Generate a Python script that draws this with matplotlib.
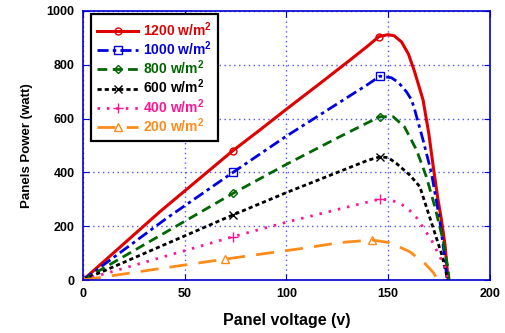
import matplotlib.pyplot as plt

plt.rcParams['font.family'] = ['Liberation Sans', 'DejaVu Sans']
plt.rcParams['font.weight'] = 'bold'
plt.rcParams['mathtext.fontset'] = 'custom'
plt.rcParams['mathtext.bf'] = 'Liberation Sans:bold'
plt.rcParams['mathtext.rm'] = 'Liberation Sans:bold'
plt.rcParams['mathtext.default'] = 'bf'
plt.rcParams['lines.scale_dashes'] = False

# P-V curves of the panel for each irradiance level
v_1200 = [0, 37.8, 73.7, 87, 100, 115, 130, 140, 145.5, 150, 153, 156.6, 160, 163, 167.2, 170, 172.2, 174.5, 176.2, 178, 179.5]
p_1200 = [0, 254, 481, 558, 635, 722, 810, 870, 905, 912, 908, 885, 840, 775, 669, 545, 421, 300, 225, 130, 0]

v_1000 = [0, 41, 73.7, 100, 125, 140, 146, 151.6, 155, 159, 161.5, 163, 167.2, 171.3, 175.4, 177.9, 179]
p_1000 = [0, 229, 400, 535, 655, 727, 758, 752, 735, 700, 670, 635, 520, 398, 223, 80, 0]

v_800 = [0, 73.7, 100, 125, 140, 146, 152.5, 158, 164, 168.8, 173, 177, 179.5, 180]
p_800 = [0, 322, 430, 528, 585, 607, 607, 570, 483, 384, 272, 149, 40, 0]

v_600 = [0, 73.7, 100, 125, 140, 146, 150, 154, 160.7, 165.6, 168.8, 173, 176.2, 178.6, 179]
p_600 = [0, 242, 325, 400, 445, 458, 455, 434, 390, 347, 272, 174, 99, 25, 0]

v_400 = [0, 73.7, 100, 125, 140, 146, 151.6, 156.6, 160.7, 164.3, 168, 171.3, 174.6, 177.9, 179.4]
p_400 = [0, 161, 215, 262, 290, 301, 297, 282, 258, 229, 186, 149, 99, 50, 0]

v_200 = [0, 40, 70, 90, 110, 126, 142, 150, 155, 160.7, 168, 172, 174.6]
p_200 = [0, 45, 78, 99, 120, 139, 149, 140, 125, 105, 62, 30, 0]

labels = ['1200 w/m$^2$', '1000 w/m$^2$', '800 w/m$^2$',
          '600 w/m$^2$', '400 w/m$^2$', '200 w/m$^2$']
mark_v = [[0, 73.7, 145.5], [0, 73.7, 146], [0, 73.7, 146],
          [0, 73.7, 146], [0, 73.7, 146], [0, 70, 142]]

colors = ['#e00000', '#0000e0', '#006600', 'black', '#ff1493', '#ff8c1a']
markers = ['o', 's', 'D', 'x', '+', '^']
msizes = [5, 6, 4.5, 6, 7, 6]
dashes = [None, (8, 3, 2.5, 3), (7, 4), (3, 2.2), (1.8, 5), (13, 8)]
widths = [2.2, 2.0, 2.0, 2.0, 2.0, 2.0]

fig = plt.figure(figsize=(5.06, 3.33), dpi=100)
ax = fig.add_axes([0.164, 0.159, 0.804, 0.808])

curves = [(v_1200, p_1200), (v_1000, p_1000), (v_800, p_800),
          (v_600, p_600), (v_400, p_400), (v_200, p_200)]
for i, (v, p) in enumerate(curves):
    idx = [v.index(m) for m in mark_v[i]]
    line, = ax.plot(v, p, color=colors[i], lw=widths[i], marker=markers[i],
                    markevery=idx, ms=msizes[i], mfc='none', mew=1.0,
                    label=labels[i])
    if dashes[i] is not None:
        line.set_dashes(dashes[i])

ax.set_xlim(0, 200)
ax.set_ylim(0, 1000)
ax.set_xticks([0, 50, 100, 150, 200])
ax.set_yticks([0, 200, 400, 600, 800, 1000])
ax.grid(True, color='#5050ff', linestyle=(0, (1, 2.5)), lw=1.0)
for s in ax.spines.values():
    s.set_color('#0000cc')
    s.set_linewidth(1.2)
ax.tick_params(direction='in', top=True, right=True, color='#0000cc',
               length=4, labelsize=9, pad=6)
for t in ax.get_xticklabels() + ax.get_yticklabels():
    t.set_fontweight('bold')

ax.set_xlabel('Panel voltage (v)', fontsize=11.5, fontweight='bold', labelpad=9)
ax.set_ylabel('Panels Power (watt)', fontsize=9.5, fontweight='bold', labelpad=10)

leg = ax.legend(loc='upper left', bbox_to_anchor=(0.02, 0.99), borderaxespad=0,
                fancybox=False, framealpha=1, edgecolor='black',
                prop={'weight': 'bold', 'size': 10}, handlelength=2.9,
                labelspacing=0.05, borderpad=0.45, handletextpad=0.4)
leg.get_frame().set_linewidth(1.6)
for t, c in zip(leg.get_texts(), colors):
    t.set_color(c)

fig.savefig('out.png', dpi=100)
